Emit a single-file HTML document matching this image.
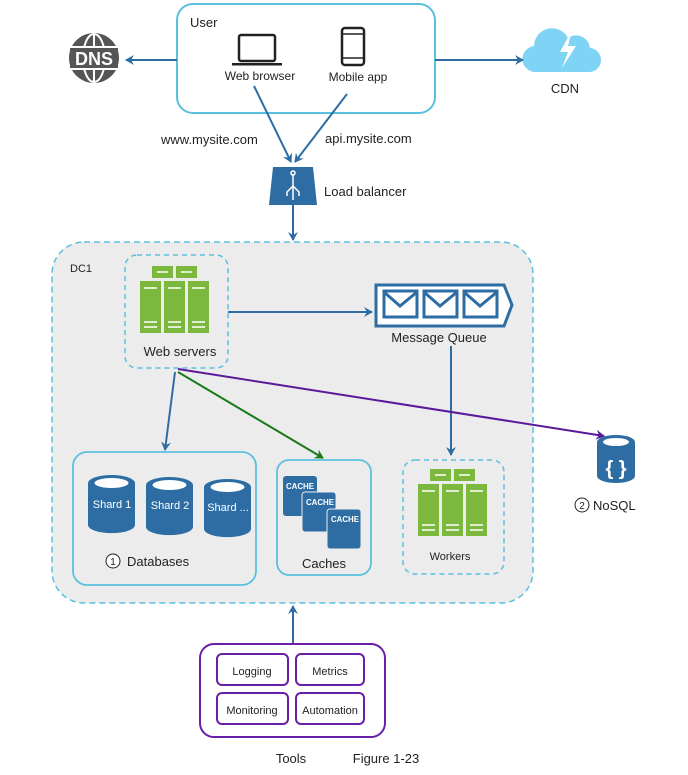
<!DOCTYPE html>
<html><head><meta charset="utf-8"><style>
html,body{margin:0;padding:0;background:#fff;}
svg{display:block;font-family:"Liberation Sans",sans-serif;}
</style></head><body>
<svg width="688" height="775" viewBox="0 0 688 775" xmlns="http://www.w3.org/2000/svg">
<defs>
<marker id="ab" markerWidth="10" markerHeight="10" refX="8" refY="5" orient="auto" markerUnits="userSpaceOnUse"><path d="M0,0 L9,5 L0,10 L3,5 Z" fill="#2e6da4"/></marker>
<marker id="ag" markerWidth="10" markerHeight="10" refX="8" refY="5" orient="auto" markerUnits="userSpaceOnUse"><path d="M0,0 L9,5 L0,10 L3,5 Z" fill="#1a7a1a"/></marker>
<marker id="ap" markerWidth="10" markerHeight="10" refX="8" refY="5" orient="auto" markerUnits="userSpaceOnUse"><path d="M0,0 L9,5 L0,10 L3,5 Z" fill="#5b1a9c"/></marker>
<g id="srv">
<rect x="12" y="0" width="21" height="12" fill="#7cb83e"/><rect x="36" y="0" width="21" height="12" fill="#7cb83e"/>
<rect x="0" y="15" width="21" height="52" fill="#7cb83e"/><rect x="24" y="15" width="21" height="52" fill="#7cb83e"/><rect x="48" y="15" width="21" height="52" fill="#7cb83e"/>
<g stroke="#fff" stroke-width="1.5"><path d="M17,6h11M41,6h11M4,22h13M28,22h13M52,22h13M4,56h13M28,56h13M52,56h13M4,61h13M28,61h13M52,61h13"/></g>
</g>
<g id="cyl">
<path d="M0,8 v42 a23,8 0 0 0 47,0 v-42 Z" fill="#2e6da4"/>
<ellipse cx="23.5" cy="8" rx="23.5" ry="8" fill="#2e6da4"/>
<ellipse cx="23.5" cy="8" rx="17" ry="5" fill="#fff"/>
</g>
</defs>

<rect x="177" y="4" width="258" height="109" rx="16" fill="#fff" stroke="#5bc0de" stroke-width="2"/>
<text x="190" y="27" font-size="13" fill="#222">User</text>
<rect x="239" y="35" width="36" height="26" rx="2" fill="none" stroke="#222" stroke-width="2.5"/>
<path d="M232,63 h50 v2.5 h-50z" fill="#222"/>
<text x="260" y="80" font-size="12" fill="#222" text-anchor="middle">Web browser</text>
<rect x="342" y="28" width="22" height="37" rx="3" fill="none" stroke="#222" stroke-width="2.5"/>
<path d="M342,34 h22 M342,58 h22" stroke="#222" stroke-width="1.5"/>
<text x="358" y="81" font-size="12" fill="#222" text-anchor="middle">Mobile app</text>

<circle cx="94" cy="58" r="25" fill="#555"/>
<g stroke="#fff" stroke-width="2" fill="none"><ellipse cx="94" cy="58" rx="11" ry="24"/><path d="M71,47 h46 M71,69 h46 M94,34 v48"/></g>
<rect x="70" y="48" width="48" height="20" fill="#555"/>
<text x="94" y="65" font-size="18" font-weight="bold" fill="#fff" text-anchor="middle">DNS</text>
<line x1="177" y1="60" x2="126" y2="60" stroke="#2e6da4" stroke-width="2" marker-end="url(#ab)"/>

<path d="M537,72 a13,13 0 0 1 -3,-26 a18,18 0 0 1 34,-8 a14,14 0 0 1 22,10 a12,12 0 0 1 -2,24 Z" fill="#7fd3f5"/>
<path d="M572,30 l-12,22 h8 l-6,16 l14,-22 h-8 z" fill="#fff"/>
<text x="565" y="93" font-size="13" fill="#222" text-anchor="middle">CDN</text>
<line x1="435" y1="60" x2="523" y2="60" stroke="#2e6da4" stroke-width="2" marker-end="url(#ab)"/>

<line x1="254" y1="86" x2="291" y2="162" stroke="#2e6da4" stroke-width="2" marker-end="url(#ab)"/>
<line x1="347" y1="94" x2="295" y2="162" stroke="#2e6da4" stroke-width="2" marker-end="url(#ab)"/>
<text x="161" y="144" font-size="13" fill="#222">www.mysite.com</text>
<text x="325" y="143" font-size="13" fill="#222">api.mysite.com</text>
<path d="M273,167 h40 l4,38 h-48 z" fill="#2e6da4"/>
<g stroke="#fff" stroke-width="1.5" fill="none"><path d="M293,174 v26 M293,186 l-6,6 v4 M293,186 l6,6 v4"/><circle cx="293" cy="173" r="2"/></g>
<text x="324" y="196" font-size="13" fill="#222">Load balancer</text>
<line x1="293" y1="205" x2="293" y2="240" stroke="#2e6da4" stroke-width="2" marker-end="url(#ab)"/>

<rect x="52" y="242" width="481" height="361" rx="32" fill="#ececec" stroke="#5bc0de" stroke-width="1.5" stroke-dasharray="6,4"/>
<text x="70" y="272" font-size="11" fill="#222">DC1</text>

<rect x="125" y="255" width="103" height="113" rx="12" fill="none" stroke="#5bc0de" stroke-width="1.5" stroke-dasharray="5,4"/>
<use href="#srv" x="140" y="266"/>
<text x="180" y="356" font-size="13" fill="#222" text-anchor="middle">Web servers</text>

<path d="M376,285 h128 l8,20 l-8,21 h-128 z" fill="#fff" stroke="#2e6da4" stroke-width="3"/>
<g fill="#fff" stroke="#2e6da4" stroke-width="3">
<rect x="384" y="291" width="33" height="26"/><rect x="424" y="291" width="33" height="26"/><rect x="464" y="291" width="33" height="26"/>
</g>
<g fill="none" stroke="#2e6da4" stroke-width="3"><path d="M384,292 l16,14 l17,-14 M424,292 l16,14 l17,-14 M464,292 l16,14 l17,-14"/></g>
<text x="439" y="342" font-size="13" fill="#222" text-anchor="middle">Message Queue</text>
<line x1="228" y1="312" x2="372" y2="312" stroke="#2e6da4" stroke-width="2" marker-end="url(#ab)"/>
<line x1="451" y1="346" x2="451" y2="455" stroke="#2e6da4" stroke-width="2" marker-end="url(#ab)"/>

<line x1="175" y1="372" x2="165" y2="450" stroke="#2e6da4" stroke-width="2" marker-end="url(#ab)"/>
<line x1="178" y1="372" x2="323" y2="458" stroke="#1a7a1a" stroke-width="2" marker-end="url(#ag)"/>
<line x1="178" y1="369" x2="604" y2="436" stroke="#5b1a9c" stroke-width="2" marker-end="url(#ap)"/>

<rect x="73" y="452" width="183" height="133" rx="14" fill="none" stroke="#5bc0de" stroke-width="1.8"/>
<use href="#cyl" x="88" y="475"/><use href="#cyl" x="146" y="477"/><use href="#cyl" x="204" y="479"/>
<g font-size="11" fill="#fff" text-anchor="middle"><text x="112" y="508">Shard 1</text><text x="170" y="509">Shard 2</text><text x="228" y="511">Shard ...</text></g>
<circle cx="113" cy="561" r="7" fill="#fff" stroke="#222" stroke-width="1"/>
<text x="113" y="565" font-size="10" fill="#222" text-anchor="middle">1</text>
<text x="127" y="566" font-size="13" fill="#222">Databases</text>

<rect x="277" y="460" width="94" height="115" rx="12" fill="none" stroke="#5bc0de" stroke-width="1.8"/>
<rect x="283" y="476" width="34" height="40" rx="3" fill="#2e6da4"/>
<rect x="302" y="492" width="34" height="40" rx="3" fill="#2e6da4" stroke="#ececec" stroke-width="1"/>
<rect x="327" y="509" width="34" height="40" rx="3" fill="#2e6da4" stroke="#ececec" stroke-width="1"/>
<g font-size="8" fill="#fff" font-weight="bold"><text x="286" y="489" textLength="28" lengthAdjust="spacingAndGlyphs">CACHE</text><text x="306" y="505" textLength="28" lengthAdjust="spacingAndGlyphs">CACHE</text><text x="331" y="522" textLength="28" lengthAdjust="spacingAndGlyphs">CACHE</text></g>
<text x="324" y="568" font-size="13" fill="#222" text-anchor="middle">Caches</text>

<rect x="403" y="460" width="101" height="114" rx="12" fill="none" stroke="#5bc0de" stroke-width="1.5" stroke-dasharray="5,4"/>
<use href="#srv" x="418" y="469"/>
<text x="450" y="560" font-size="11" fill="#222" text-anchor="middle">Workers</text>

<path d="M597,442 v34 a19,7 0 0 0 38,0 v-34 Z" fill="#2e6da4"/>
<ellipse cx="616" cy="442" rx="19" ry="7" fill="#2e6da4"/>
<ellipse cx="616" cy="442" rx="13" ry="4" fill="#fff"/>
<text x="616" y="475" font-size="20" font-weight="bold" fill="#fff" text-anchor="middle">{ }</text>
<circle cx="582" cy="505" r="7" fill="#fff" stroke="#222" stroke-width="1"/>
<text x="582" y="509" font-size="10" fill="#222" text-anchor="middle">2</text>
<text x="593" y="510" font-size="13" fill="#222">NoSQL</text>

<line x1="293" y1="644" x2="293" y2="606" stroke="#2e6da4" stroke-width="2" marker-end="url(#ab)"/>
<rect x="200" y="644" width="185" height="93" rx="14" fill="#fff" stroke="#6a1fa8" stroke-width="2"/>
<g fill="#fff" stroke="#6a1fa8" stroke-width="2">
<rect x="217" y="654" width="71" height="31" rx="5"/><rect x="296" y="654" width="68" height="31" rx="5"/>
<rect x="217" y="693" width="71" height="31" rx="5"/><rect x="296" y="693" width="68" height="31" rx="5"/>
</g>
<g font-size="11" fill="#222" text-anchor="middle">
<text x="252" y="675">Logging</text><text x="330" y="675">Metrics</text>
<text x="252" y="714">Monitoring</text><text x="330" y="714">Automation</text>
</g>
<text x="291" y="763" font-size="13" fill="#222" text-anchor="middle">Tools</text>
<text x="386" y="763" font-size="13" fill="#222" text-anchor="middle">Figure 1-23</text>
</svg>
</body></html>
